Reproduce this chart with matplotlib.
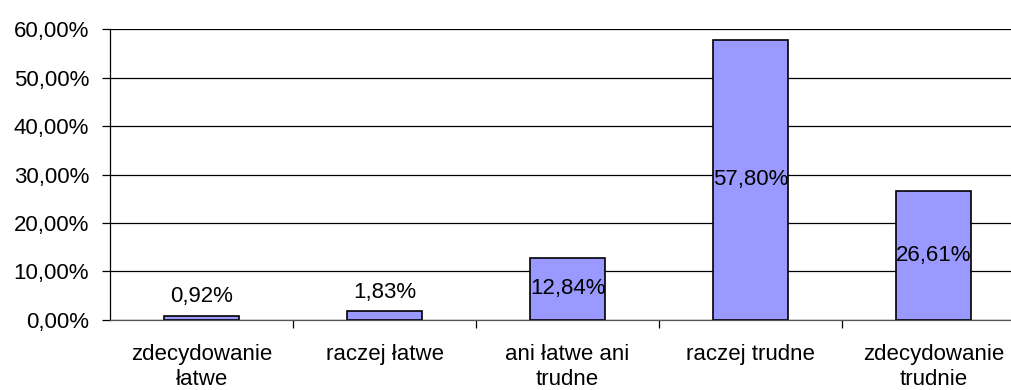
import matplotlib.pyplot as plt

categories = ["zdecydowanie\nłatwe", "raczej łatwe", "ani łatwe ani\ntrudne",
              "raczej trudne", "zdecydowanie\ntrudnie"]
values = [0.92, 1.83, 12.84, 57.80, 26.61]
yticks = [0, 10, 20, 30, 40, 50, 60]

plt.rcParams['font.family'] = ['Liberation Sans', 'DejaVu Sans']
plt.rcParams['font.size'] = 16


def pct(v):
    return f"{v:.2f}".replace('.', ',') + '%'


fig = plt.figure(figsize=(10.12, 3.9), dpi=100)
ax = fig.add_axes([0.1087, 0.1795, 0.9043, 0.7461])

x = list(range(len(categories)))
ax.bar(x, values, width=0.41, color='#9999FF', edgecolor='black', linewidth=1.2, zorder=3)

for xi, v in zip(x, values):
    if v > 5:
        ax.text(xi, v / 2, pct(v), ha='center', va='center', zorder=4)
    else:
        ax.annotate(pct(v), (xi, v), xytext=(0, 6), textcoords='offset points',
                    ha='center', va='bottom', zorder=4)

ax.set_ylim(0, 60)
ax.set_xlim(-0.5, len(categories) - 0.5)
ax.set_yticks(yticks)
ax.set_yticklabels([pct(t) for t in yticks])
ax.yaxis.grid(True, color='black', linewidth=0.9, zorder=0)

# category labels centred, ticks between categories
ax.set_xticks(x)
ax.set_xticklabels(categories, linespacing=1.3)
ax.tick_params(axis='x', length=0, pad=17)
ax.set_xticks([i + 0.5 for i in range(len(categories) - 1)], minor=True)
ax.tick_params(axis='x', which='minor', length=6, width=0.9, direction='out')
ax.tick_params(axis='y', length=6, width=0.9, direction='out', pad=9)

for s in ['top', 'right']:
    ax.spines[s].set_visible(False)
ax.spines['left'].set_linewidth(0.9)
ax.spines['bottom'].set_linewidth(0.9)
ax.spines['bottom'].set_color('#555555')

fig.savefig('out.png', dpi=100)
